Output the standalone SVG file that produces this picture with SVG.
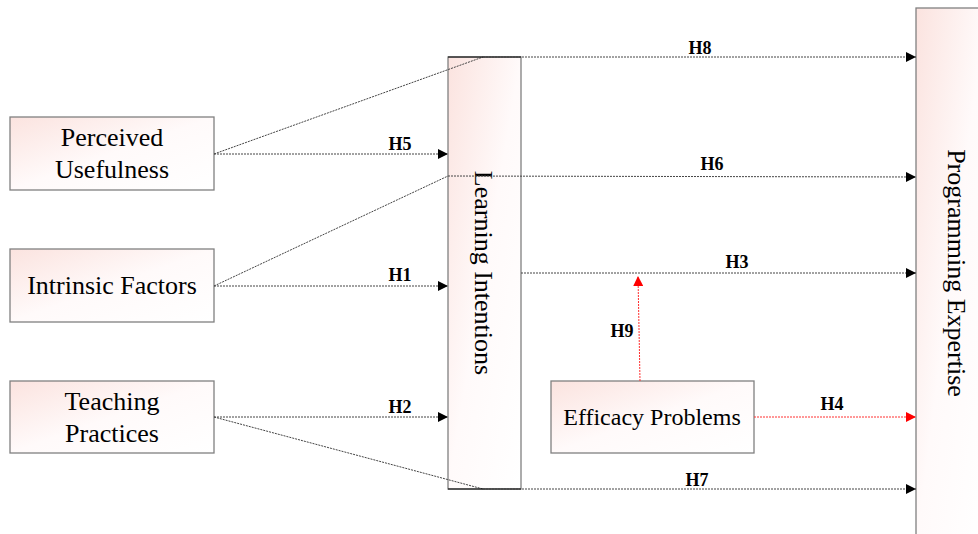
<svg xmlns="http://www.w3.org/2000/svg" width="978" height="534" viewBox="0 0 978 534">
<defs>
<linearGradient id="g" x1="0" y1="0" x2="1" y2="1">
<stop offset="0" stop-color="#fbe3df"/>
<stop offset="0.5" stop-color="#fffafa"/>
<stop offset="1" stop-color="#ffffff"/>
</linearGradient>
<marker id="ab" viewBox="0 0 10 10" refX="10" refY="5" markerWidth="10" markerHeight="10" markerUnits="userSpaceOnUse" orient="auto"><path d="M0,0 L10,5 L0,10 z" fill="#000"/></marker>
<marker id="ar" viewBox="0 0 10 10" refX="10" refY="5" markerWidth="10" markerHeight="10" markerUnits="userSpaceOnUse" orient="auto"><path d="M0,0 L10,5 L0,10 z" fill="#ff0000"/></marker>
<style>
.box{fill:url(#g);stroke:#808080;stroke-width:1.3}
.t{font-family:"Liberation Serif","Times New Roman",serif;font-size:26px;fill:#000;text-anchor:middle}
.l{font-family:"Liberation Serif","Times New Roman",serif;font-size:18px;font-weight:bold;fill:#000;text-anchor:middle}
.c{fill:none;stroke:#444;stroke-width:1;stroke-dasharray:2 1}
.r{fill:none;stroke:#ff3030;stroke-width:1;stroke-dasharray:2 1}
</style>
</defs>
<g id="pu"><rect class="box" x="10" y="117" width="204" height="73"/><text class="t" x="112" y="146">Perceived</text><text class="t" x="112" y="178">Usefulness</text></g>
<g id="if"><rect class="box" x="10" y="249" width="204" height="73"/><text class="t" x="112" y="294">Intrinsic Factors</text></g>
<g id="tp"><rect class="box" x="10" y="381" width="204" height="72"/><text class="t" x="112" y="410">Teaching</text><text class="t" x="112" y="442">Practices</text></g>
<g id="li"><rect class="box" x="448" y="57" width="73" height="432"/><text class="t" x="484" y="273" transform="rotate(90 484 273)" dy="9">Learning Intentions</text></g>
<g id="pe"><rect class="box" x="916" y="8" width="70" height="540"/><text class="t" x="957" y="273" transform="rotate(90 957 273)" dy="9">Programming Expertise</text></g>
<g id="ep"><rect class="box" x="551" y="381" width="203" height="72"/><text class="t" x="652" y="425" style="font-size:24px">Efficacy Problems</text></g>
<g id="connectors">
<line class="c" x1="214" y1="154" x2="483" y2="57"/>
<line x1="448" y1="57" x2="521" y2="57" stroke="#000" stroke-width="1.2"/>
<line class="c" x1="483" y1="57" x2="916" y2="57" marker-end="url(#ab)"/>
<line class="c" x1="214" y1="154" x2="448" y2="154" marker-end="url(#ab)"/>
<line class="c" x1="214" y1="286" x2="448" y2="176"/>
<line class="c" x1="448" y1="176" x2="916" y2="177" marker-end="url(#ab)"/>
<line class="c" x1="214" y1="286" x2="448" y2="286" marker-end="url(#ab)"/>
<line class="c" x1="521" y1="273" x2="916" y2="273" marker-end="url(#ab)"/>
<line class="c" x1="214" y1="417" x2="448" y2="417" marker-end="url(#ab)"/>
<line class="c" x1="214" y1="417" x2="483" y2="489"/>
<line x1="448" y1="489" x2="521" y2="489" stroke="#000" stroke-width="1.2"/>
<line class="c" x1="483" y1="489" x2="916" y2="489" marker-end="url(#ab)"/>
<line class="r" x1="640" y1="381" x2="638" y2="276" marker-end="url(#ar)"/>
<line class="r" x1="754" y1="417" x2="916" y2="417" marker-end="url(#ar)"/>
<text class="l" x="400" y="150">H5</text>
<text class="l" x="400" y="281">H1</text>
<text class="l" x="400" y="413">H2</text>
<text class="l" x="700" y="54">H8</text>
<text class="l" x="712" y="170">H6</text>
<text class="l" x="737" y="268">H3</text>
<text class="l" x="622" y="337">H9</text>
<text class="l" x="832" y="410">H4</text>
<text class="l" x="697" y="486">H7</text>
</g>
</svg>
